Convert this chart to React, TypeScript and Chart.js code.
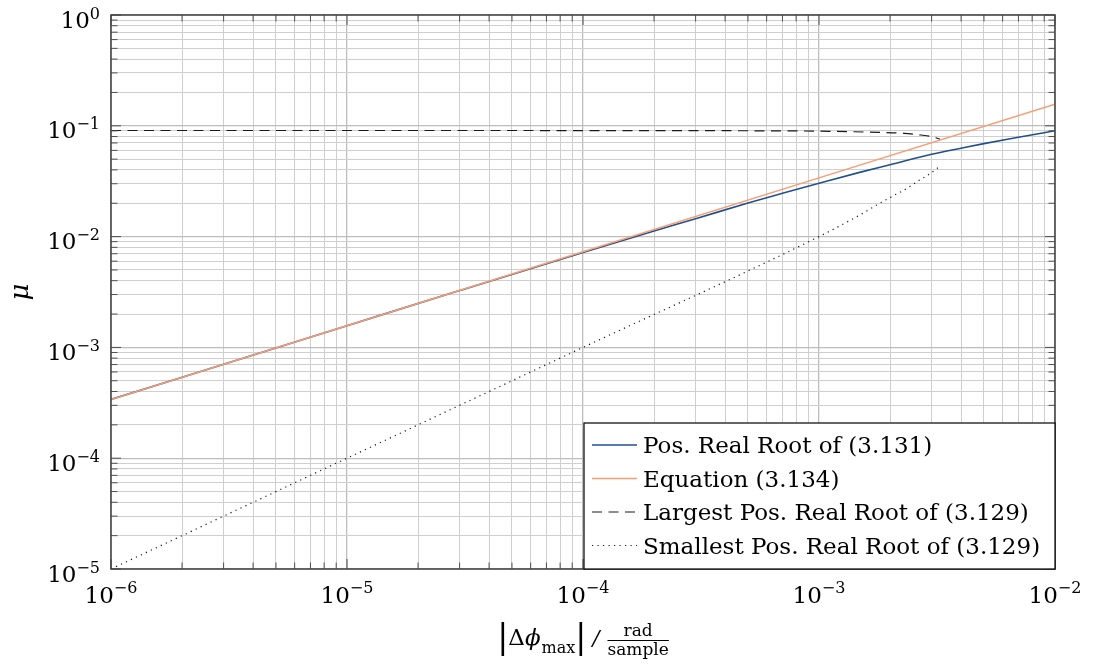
import React, { useEffect, useRef } from "react";
import { Chart, registerables } from "chart.js";

Chart.register(...registerables);

// ---- data -------------------------------------------------------------
const xTickExponents = [-6, -5, -4, -3, -2];
const yTickExponents = [-5, -4, -3, -2, -1, 0];

const seriesLabels = [
  "Pos. Real Root of (3.131)",
  "Equation (3.134)",
  "Largest Pos. Real Root of (3.129)",
  "Smallest Pos. Real Root of (3.129)",
];

const posRootX = [1e-6, 1e-5, 3e-5, 1e-4, 2e-4, 3e-4, 5e-4, 7e-4, 1e-3, 1.5e-3, 2e-3, 3e-3, 4e-3, 5e-3, 7e-3, 1e-2];
const posRootY = [3.39e-4, 1.57e-3, 3.26e-3, 7.2e-3, 1.125e-2, 1.45e-2, 2.01e-2, 2.46e-2, 3.03e-2, 3.82e-2, 4.45e-2, 5.53e-2, 6.27e-2, 6.9e-2, 7.87e-2, 9.03e-2];

const equationX = [1e-6, 1e-5, 1e-4, 1e-3, 1e-2];
const equationY = [3.39e-4, 1.57e-3, 7.3e-3, 3.39e-2, 0.157];

const largestX = [1e-6, 1e-5, 1e-4, 5e-4, 1e-3, 1.35e-3, 1.8e-3, 2.29e-3, 2.7e-3, 3.0e-3, 3.13e-3, 3.26e-3];
const largestY = [0.0907, 0.0907, 0.0906, 0.0902, 0.0895, 0.0885, 0.0872, 0.0856, 0.0826, 0.08, 0.078, 0.0755];

const smallestX = [1e-6, 1e-5, 1e-4, 1e-3, 1.5e-3, 1.81e-3, 2.1e-3, 2.37e-3, 2.6e-3, 2.77e-3, 3.0e-3, 3.23e-3];
const smallestY = [1e-5, 1e-4, 1e-3, 1.0e-2, 1.58e-2, 2.0e-2, 2.38e-2, 2.74e-2, 3.13e-2, 3.4e-2, 3.78e-2, 4.28e-2];

// ---- helpers ----------------------------------------------------------
const SERIF = '"DejaVu Serif", serif';
const pts = (xs: number[], ys: number[]) => xs.map((x, i) => ({ x, y: ys[i] }));
const isDecade = (v: number) => {
  const l = Math.log10(v);
  return Math.abs(l - Math.round(l)) < 1e-6;
};
const logTicks = (exps: number[]) => {
  const out: { value: number }[] = [];
  for (let i = 0; i < exps.length - 1; i++) {
    for (let m = 1; m <= 9; m++) out.push({ value: m * Math.pow(10, exps[i]) });
  }
  out.push({ value: Math.pow(10, exps[exps.length - 1]) });
  return out;
};
const sup = (e: number) => (e < 0 ? "\u2212" + Math.abs(e) : String(e));

const overlayPlugin = {
  id: "overlay",
  afterDraw(chart: any) {
    const ctx: CanvasRenderingContext2D = chart.ctx;
    const { left, right, top, bottom } = chart.chartArea;
    const xs = chart.scales.x;
    const ys = chart.scales.y;
    ctx.save();

    // inward tick marks on all four sides
    ctx.strokeStyle = "#505050";
    ctx.lineWidth = 1;
    for (const t of xs.ticks) {
      const px = xs.getPixelForValue(t.value);
      const len = isDecade(t.value) ? 10 : 6.5;
      ctx.beginPath();
      ctx.moveTo(px, bottom);
      ctx.lineTo(px, bottom - len);
      ctx.moveTo(px, top);
      ctx.lineTo(px, top + len);
      ctx.stroke();
    }
    for (const t of ys.ticks) {
      const py = ys.getPixelForValue(t.value);
      const len = isDecade(t.value) ? 10 : 6.5;
      ctx.beginPath();
      ctx.moveTo(left, py);
      ctx.lineTo(left + len, py);
      ctx.moveTo(right, py);
      ctx.lineTo(right - len, py);
      ctx.stroke();
    }

    // frame
    ctx.strokeStyle = "#404040";
    ctx.lineWidth = 1.5;
    ctx.strokeRect(left, top, right - left, bottom - top);

    // tick labels
    const mainFont = `23px ${SERIF}`;
    const expFont = `16px ${SERIF}`;
    ctx.fillStyle = "#000";
    ctx.textBaseline = "alphabetic";
    ctx.textAlign = "left";
    for (const e of xTickExponents) {
      const px = xs.getPixelForValue(Math.pow(10, e));
      ctx.font = mainFont;
      const w1 = ctx.measureText("10").width;
      ctx.font = expFont;
      const w2 = ctx.measureText(sup(e)).width;
      const sx = px - (w1 + w2) / 2;
      ctx.font = mainFont;
      ctx.fillText("10", sx, bottom + 34);
      ctx.font = expFont;
      ctx.fillText(sup(e), sx + w1, bottom + 24);
    }
    for (const e of yTickExponents) {
      const py = ys.getPixelForValue(Math.pow(10, e));
      ctx.font = expFont;
      const w2 = ctx.measureText(sup(e)).width;
      ctx.font = mainFont;
      const w1 = ctx.measureText("10").width;
      const ex = left - 11;
      ctx.fillText("10", ex - w2 - w1, py + 12.5);
      ctx.font = expFont;
      ctx.fillText(sup(e), ex - w2, py + 3.5);
    }

    // y title
    ctx.save();
    ctx.translate(21, (top + bottom) / 2);
    ctx.rotate(-Math.PI / 2);
    ctx.font = `italic 26px ${SERIF}`;
    ctx.textAlign = "center";
    ctx.textBaseline = "middle";
    ctx.fillText("\u03BC", 0, 0);
    ctx.restore();

    // x title: |Δϕ_max| / (rad / sample)
    const barFont = `33px ${SERIF}`;
    const bigFont = `23px ${SERIF}`;
    const itFont = `italic 23px ${SERIF}`;
    const subFont = `16px ${SERIF}`;
    const fracFont = `17px ${SERIF}`;
    const slashFont = `italic 21px ${SERIF}`;
    const measure = (f: string, s: string) => {
      ctx.font = f;
      return ctx.measureText(s).width;
    };
    const wBar = measure(barFont, "|");
    const wD = measure(bigFont, "\u0394");
    const wPhi = measure(itFont, "\u03D5");
    const wMax = measure(subFont, "max");
    const wSlash = measure(slashFont, "/");
    const wRad = measure(fracFont, "rad");
    const wSample = measure(fracFont, "sample");
    const gap1 = 6;
    const gap2 = 8;
    const total = wBar + wD + wPhi + 1 + wMax + wBar + gap1 + wSlash + gap2 + wSample;
    let cx = (left + right) / 2 - total / 2;
    const base = bottom + 76;
    ctx.textAlign = "left";
    ctx.textBaseline = "alphabetic";
    ctx.font = barFont;
    ctx.fillText("|", cx, base + 3);
    cx += wBar;
    ctx.font = bigFont;
    ctx.fillText("\u0394", cx, base);
    cx += wD;
    ctx.font = itFont;
    ctx.fillText("\u03D5", cx, base);
    cx += wPhi + 1;
    ctx.font = subFont;
    ctx.fillText("max", cx, base + 8);
    cx += wMax;
    ctx.font = barFont;
    ctx.fillText("|", cx, base + 3);
    cx += wBar + gap1;
    ctx.font = slashFont;
    ctx.fillText("/", cx, base);
    cx += wSlash + gap2;
    ctx.font = fracFont;
    ctx.fillText("rad", cx + (wSample - wRad) / 2, base - 9);
    ctx.fillText("sample", cx, base + 10);
    ctx.strokeStyle = "#000";
    ctx.lineWidth = 1;
    ctx.beginPath();
    ctx.moveTo(cx, base - 4.5);
    ctx.lineTo(cx + wSample, base - 4.5);
    ctx.stroke();

    // legend
    const lw = 471;
    const lh = 146;
    const lx = right - lw;
    const ly = bottom - lh;
    ctx.fillStyle = "#fff";
    ctx.fillRect(lx, ly, lw, lh);
    ctx.strokeStyle = "#000";
    ctx.lineWidth = 1.2;
    ctx.strokeRect(lx, ly, lw, lh);
    const dsets = chart.data.datasets;
    ctx.font = `23px ${SERIF}`;
    dsets.forEach((d: any, i: number) => {
      const ry = ly + 22 + i * 33.5;
      ctx.strokeStyle = d.borderColor;
      ctx.lineWidth = d.borderWidth;
      ctx.setLineDash(d.borderDash || []);
      ctx.beginPath();
      ctx.moveTo(lx + 8, ry);
      ctx.lineTo(lx + 53, ry);
      ctx.stroke();
      ctx.setLineDash([]);
      ctx.fillStyle = "#000";
      ctx.fillText(d.label, lx + 59, ry + 8);
    });

    ctx.restore();
  },
};

export default function App() {
  const ref = useRef<HTMLCanvasElement | null>(null);

  useEffect(() => {
    if (!ref.current) return;
    const gridColor = (c: any) => (c.tick && isDecade(c.tick.value) ? "#bdbdbd" : "#cfcfcf");
    const gridWidth = (c: any) => (c.tick && isDecade(c.tick.value) ? 1.3 : 1);
    const chart = new Chart(ref.current, {
      type: "line",
      data: {
        datasets: [
          {
            label: seriesLabels[0],
            data: pts(posRootX, posRootY),
            borderColor: "#21508f",
            borderWidth: 1.6,
            pointRadius: 0,
            cubicInterpolationMode: "monotone",
            fill: false,
            order: 1,
          },
          {
            label: seriesLabels[1],
            data: pts(equationX, equationY),
            borderColor: "#f89c72",
            borderWidth: 1.5,
            pointRadius: 0,
            tension: 0,
            fill: false,
            order: 0,
          },
          {
            label: seriesLabels[2],
            data: pts(largestX, largestY),
            borderColor: "#1a1a1a",
            borderWidth: 1.2,
            borderDash: [10, 6.5],
            pointRadius: 0,
            cubicInterpolationMode: "monotone",
            fill: false,
            order: 2,
          },
          {
            label: seriesLabels[3],
            data: pts(smallestX, smallestY),
            borderColor: "#1a1a1a",
            borderWidth: 1.2,
            borderDash: [1.2, 4.3],
            pointRadius: 0,
            cubicInterpolationMode: "monotone",
            fill: false,
            order: 3,
          },
        ],
      } as any,
      options: {
        animation: false,
        responsive: false,
        devicePixelRatio: 1,
        layout: { padding: { left: 0, top: 15, right: 39, bottom: 0 } },
        plugins: { legend: { display: false }, tooltip: { enabled: false }, title: { display: false } },
        scales: {
          x: {
            type: "logarithmic",
            min: Math.pow(10, xTickExponents[0]),
            max: Math.pow(10, xTickExponents[xTickExponents.length - 1]),
            afterBuildTicks: (s: any) => {
              s.ticks = logTicks(xTickExponents);
            },
            afterFit: (s: any) => {
              s.height = 99;
            },
            ticks: { display: false },
            border: { display: false },
            grid: { drawTicks: false, color: gridColor, lineWidth: gridWidth },
          },
          y: {
            type: "logarithmic",
            min: Math.pow(10, yTickExponents[0]),
            max: Math.pow(10, yTickExponents[yTickExponents.length - 1]),
            afterBuildTicks: (s: any) => {
              s.ticks = logTicks(yTickExponents);
            },
            afterFit: (s: any) => {
              s.width = 111;
            },
            ticks: { display: false },
            border: { display: false },
            grid: { drawTicks: false, color: gridColor, lineWidth: gridWidth },
          },
        },
      } as any,
      plugins: [overlayPlugin],
    });
    return () => chart.destroy();
  }, []);

  return (
    <div style={{ position: "fixed", left: 0, top: 0, width: 1094, height: 668, background: "#fff" }}>
      <canvas ref={ref} width={1094} height={668} style={{ display: "block" }} />
    </div>
  );
}
